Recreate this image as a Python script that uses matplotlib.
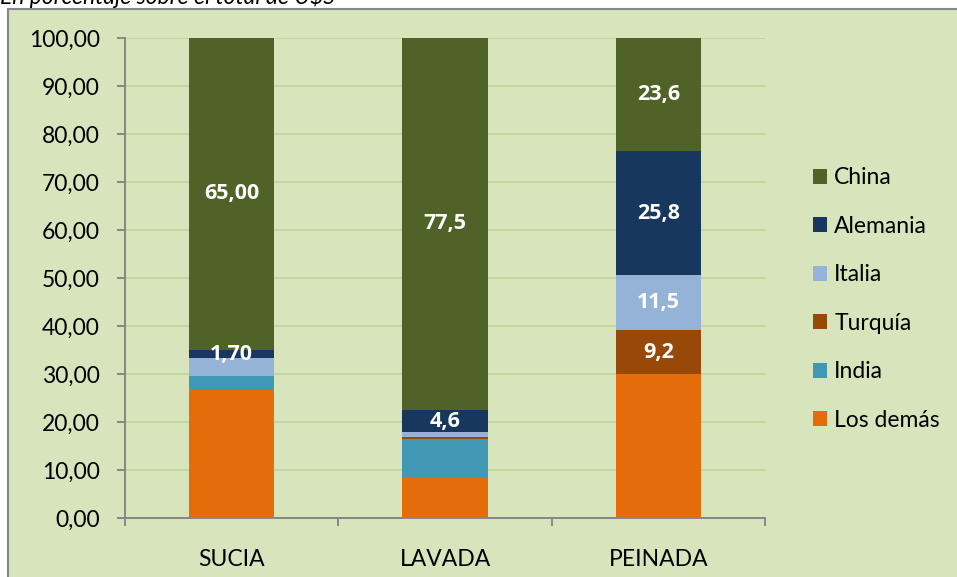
import matplotlib
matplotlib.use("Agg")
import matplotlib.pyplot as plt
from matplotlib.patches import Rectangle, Patch
from matplotlib.ticker import FixedLocator, FuncFormatter
import numpy as np

# datos (porcentaje sobre el total de U$S)
categorias = ["SUCIA", "LAVADA", "PEINADA"]
series = ["Los demás", "India", "Turquía", "Italia", "Alemania", "China"]
los_demas = [26.7, 8.5, 29.9]
india = [2.8, 8.0, 0.0]
turquia = [0.0, 0.4, 9.2]
italia = [3.8, 1.0, 11.5]
alemania = [1.7, 4.6, 25.8]
china = [65.0, 77.5, 23.6]
valores = [los_demas, india, turquia, italia, alemania, china]

# etiquetas visibles sobre las barras (None = sin etiqueta)
etiquetas = [
    [None, None, None],
    [None, None, None],
    [None, None, "9,2"],
    [None, None, "11,5"],
    ["1,70", "4,6", "25,8"],
    ["65,00", "77,5", "23,6"],
]

COLORES = ["#e46c0a", "#4198b4", "#984807", "#95b3d7", "#17375e", "#4f6228"]
BG = "#d8e4bc"
GRID = "#c3d69b"
AXIS = "#868686"

plt.rcParams["font.family"] = ["Lato", "DejaVu Sans"]

W, H = 957, 577
fig = plt.figure(figsize=(W / 100, H / 100), dpi=100)
fig.patch.set_facecolor("white")

# marco del gráfico
fig.add_artist(Rectangle((8 / W, -0.05), 1.0, 1 - 9 / H + 0.05,
                         transform=fig.transFigure, facecolor=BG,
                         edgecolor=AXIS, linewidth=1.5, zorder=0))

fig.text(0.0, 1 - 4 / H, "En porcentaje sobre el total de U$S",
         fontsize=16.5, style="italic", ha="left", va="baseline")

ax = fig.add_axes([125 / W, (H - 518) / H, 640 / W, 480 / H])
ax.set_facecolor("none")

x = np.arange(len(categorias))
bottom = np.zeros(len(categorias))
handles = []
for nombre, vals, col, labs in zip(series, valores, COLORES, etiquetas):
    vals = np.array(vals)
    ax.bar(x, vals, 0.40, bottom=bottom, color=col, zorder=3, linewidth=0)
    for i, lab in enumerate(labs):
        if lab:
            ax.text(x[i], bottom[i] + vals[i] / 2, lab, ha="center",
                    va="center", color="white", fontsize=15.5,
                    family=["Open Sans", "DejaVu Sans"],
                    fontweight="bold", zorder=4)
    bottom += vals
    handles.append(Patch(facecolor=col, label=nombre))

ax.set_xlim(-0.5, 2.5)
ax.set_ylim(0, 100)
ax.set_yticks(np.arange(0, 101, 10))
ax.yaxis.set_major_formatter(FuncFormatter(lambda v, p: f"{v:.2f}".replace(".", ",")))
ax.set_xticks(x)
ax.set_xticklabels(categorias)
ax.xaxis.set_minor_locator(FixedLocator([-0.5, 0.5, 1.5, 2.5]))
ax.tick_params(axis="x", which="major", length=0, pad=22, labelsize=16.5)
ax.tick_params(axis="x", which="minor", length=6, width=1.4, color=AXIS)
ax.tick_params(axis="y", length=6, width=1.4, color=AXIS, pad=12, labelsize=16.5)

ax.grid(axis="y", color=GRID, linewidth=1.4, zorder=1)
for s in ["top", "right"]:
    ax.spines[s].set_visible(False)
for s in ["left", "bottom"]:
    ax.spines[s].set_color(AXIS)
    ax.spines[s].set_linewidth(1.4)
    ax.spines[s].set_zorder(5)

leg = fig.legend(handles=handles[::-1], loc="upper left",
                 bbox_to_anchor=(804 / W, 1 - 158 / H), frameon=False,
                 fontsize=16.5, handlelength=0.62, handleheight=0.62,
                 handletextpad=0.3, labelspacing=1.2, borderaxespad=0)

fig.savefig("out.png", dpi=100, facecolor="white")
